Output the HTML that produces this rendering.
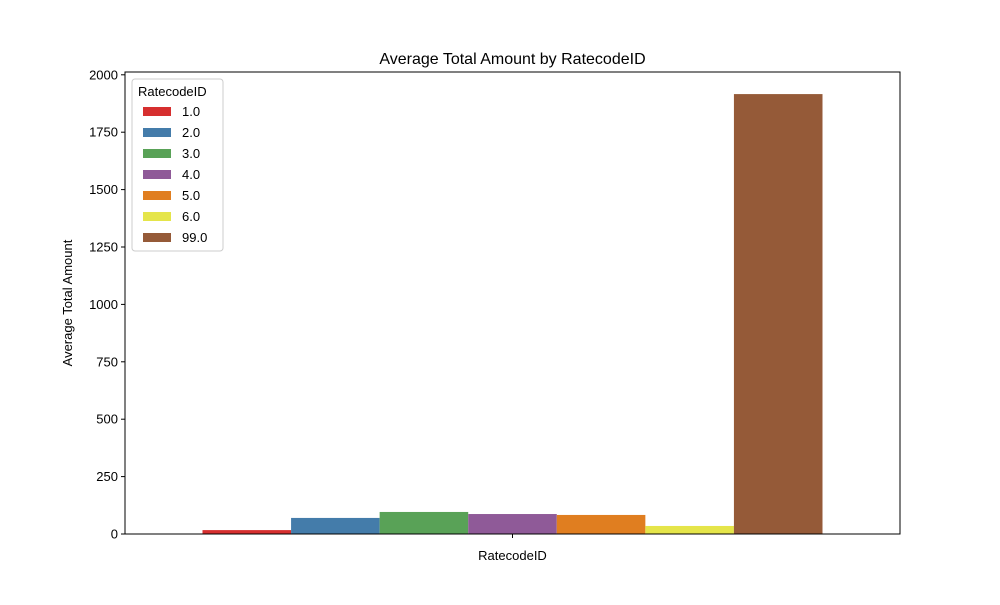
<!DOCTYPE html>
<html><head><meta charset="utf-8"><style>body{margin:0;background:#fff}svg{font-family:"Liberation Sans","DejaVu Sans",sans-serif}</style></head>
<body>
<svg id="c" width="1000" height="600"></svg>
<script>
const categories=["1.0","2.0","3.0","4.0","5.0","6.0","99.0"];
const values=[17,70,96,87,83,35,1916];
const colors=["#d62f2f","#447caa","#59a257","#8f5a98","#e07e20","#e5e54a","#955a38"];
const yTicks=[0,250,500,750,1000,1250,1500,1750,2000];
const NS="http://www.w3.org/2000/svg",svg=document.getElementById('c');
const L=125,R=900,T=72,B=534;
const y=v=>B-v*(459.2/2000);
function el(t,a,txt){const e=document.createElementNS(NS,t);for(const k in a)e.setAttribute(k,a[k]);if(txt!=null)e.textContent=txt;svg.appendChild(e);return e;}
const bw=(R-L)*0.8/categories.length,x0=L+(R-L)*0.1;
values.forEach((v,i)=>{const r=el('rect',{x:x0+i*bw,y:y(v),width:bw,height:B-y(v),fill:colors[i]});

});
yTicks.forEach(t=>{el('line',{x1:L-4,x2:L,y1:y(t),y2:y(t),stroke:'#000'});
const tx=el('text',{x:L-7,y:y(t)+4.5,'text-anchor':'end','font-size':13},t);

});
el('line',{x1:(L+R)/2,x2:(L+R)/2,y1:B,y2:B+4,stroke:'#000'});
const f=el('rect',{x:L,y:T,width:R-L,height:B-T,fill:'none',stroke:'#000','stroke-width':1});

const tt=el('text',{x:(L+R)/2,y:64,'text-anchor':'middle','font-size':16},'Average Total Amount by RatecodeID');

const xl=el('text',{x:(L+R)/2,y:560,'text-anchor':'middle','font-size':13},'RatecodeID');

const yl=el('text',{x:72,y:303,'text-anchor':'middle','font-size':13,transform:'rotate(-90 72 303)'},'Average Total Amount');

const lg=el('rect',{x:132,y:79,width:91,height:172,fill:'#fff',stroke:'#ccc',rx:3});

el('text',{x:138,y:96,'font-size':13},'RatecodeID');
categories.forEach((c,i)=>{const yy=111+i*21;
const s=el('rect',{x:143,y:yy-4,width:28,height:9,fill:colors[i]});

const t=el('text',{x:182,y:yy+5,'font-size':13},c);
});
</script>
</body></html>
